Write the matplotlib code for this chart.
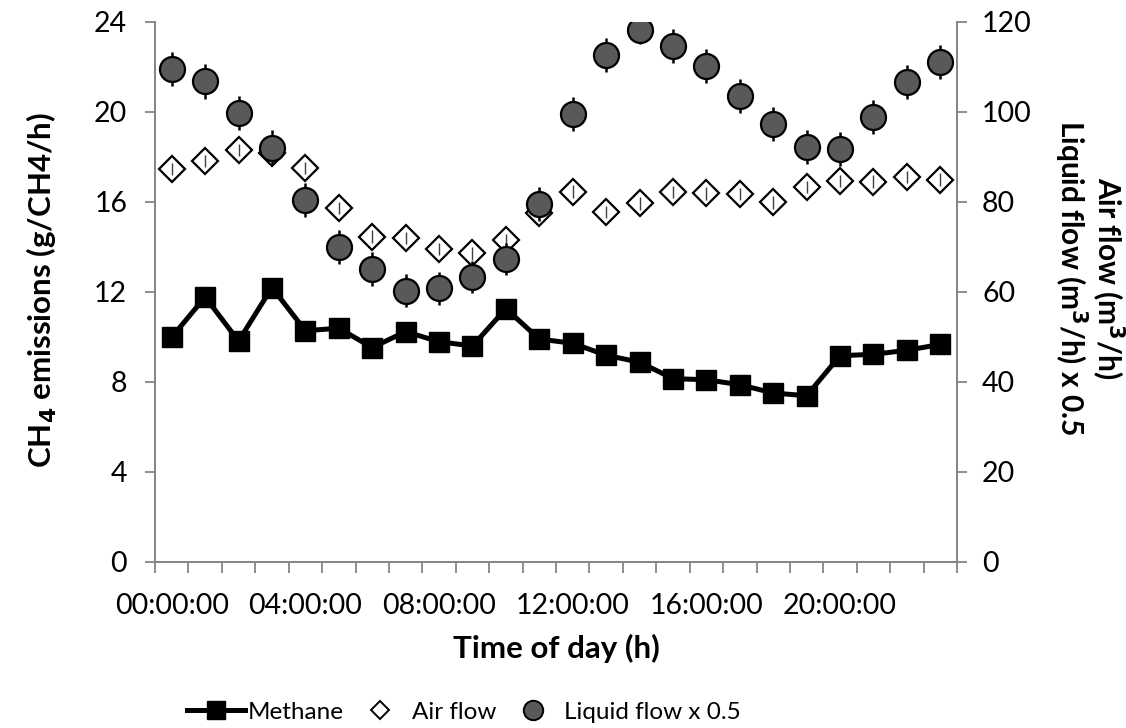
import numpy as np
import matplotlib
matplotlib.use("Agg")
import matplotlib.pyplot as plt
from matplotlib.lines import Line2D
from matplotlib.ticker import MultipleLocator, FixedLocator

plt.rcParams['font.family'] = ['Lato', 'DejaVu Sans']

# Hourly samples over one day (hour index 0..23)
hours = list(range(24))
tick_hours = [0, 4, 8, 12, 16, 20]
tick_labels = ["00:00:00", "04:00:00", "08:00:00", "12:00:00", "16:00:00", "20:00:00"]

# CH4 emissions (g/h), left axis
methane = [9.99, 11.78, 9.82, 12.2, 10.28, 10.39, 9.53, 10.24, 9.79, 9.6, 11.26, 9.91,
           9.72, 9.19, 8.88, 8.15, 8.10, 7.88, 7.51, 7.39, 9.17, 9.23, 9.41, 9.67]

# Air flow (m3/h), right axis
air_flow = [87.3, 89.1, 91.6, 90.8, 87.6, 78.7, 72.3, 72.0, 69.6, 68.6, 71.6, 77.5,
            82.3, 77.8, 79.7, 82.2, 81.9, 81.8, 79.9, 83.3, 84.7, 84.5, 85.6, 85.0]
air_err = [1.4, 1.4, 1.4, 1.4, 1.4, 1.4, 1.4, 1.4, 1.4, 1.4, 1.4, 1.4,
           1.4, 1.4, 1.4, 1.4, 1.4, 1.4, 1.4, 1.4, 1.4, 1.4, 1.4, 1.4]

# Liquid flow x 0.5 (m3/h), right axis
liquid_half = [109.6, 106.8, 99.8, 92.1, 80.4, 70.0, 65.2, 60.3, 60.8, 63.3, 67.3, 79.5,
               99.6, 112.6, 118.2, 114.7, 110.2, 103.6, 97.4, 92.2, 91.7, 98.9, 106.7, 111.1]
liquid_err = [3.8, 3.8, 3.8, 3.8, 3.8, 3.8, 3.8, 3.6, 3.6, 3.6, 3.6, 3.8,
              3.8, 3.8, 3.0, 3.8, 3.8, 3.8, 3.8, 3.8, 3.8, 3.8, 3.8, 3.8]

axis_grey = "#868686"
fill_grey = "#595959"
W, H = 1126, 728
ax_l, ax_r, ax_t, ax_b = 155, 957, 22, 562

fig = plt.figure(figsize=(W / 100, H / 100), dpi=100)
ax = fig.add_axes([ax_l / W, 1 - ax_b / H, (ax_r - ax_l) / W, (ax_b - ax_t) / H])
ax2 = ax.twinx()
ax2.patch.set_visible(False)

# Methane line on the primary axis
ax.plot(hours, methane, color="black", lw=3.6, marker="s", ms=14.5,
        mfc="black", mec="black", zorder=3)

# Air flow diamonds with their error bars drawn inside
ax2.plot(hours, air_flow, ls="none", marker="D", ms=13.2, mfc="white",
         mec="black", mew=1.6, zorder=2)
ax2.errorbar(hours, air_flow, yerr=air_err, fmt="none", ecolor="#404040",
             elinewidth=1.0, capsize=0, zorder=2.5)

# Liquid flow circles with error bars behind
ax2.errorbar(hours, liquid_half, yerr=liquid_err, fmt="none", ecolor="black",
             elinewidth=1.8, capsize=0, zorder=3)
ax2.plot(hours, liquid_half, ls="none", marker="o", ms=18, mfc=fill_grey,
         mec="black", mew=1.6, zorder=4)

# Axes limits and ticks
ax.set_xlim(-0.5, 23.5)
ax.set_ylim(0, 24)
ax2.set_ylim(0, 120)
ax.yaxis.set_major_locator(MultipleLocator(4))
ax2.yaxis.set_major_locator(MultipleLocator(20))

ax.xaxis.set_major_locator(FixedLocator(tick_hours))
ax.set_xticklabels(tick_labels)
ax.xaxis.set_minor_locator(FixedLocator([h - 0.5 for h in range(25)]))
ax.tick_params(axis="x", which="major", length=0, pad=22, labelsize=20.5)
ax.tick_params(axis="x", which="minor", length=8, width=1.3, color=axis_grey, direction="out")
ax.tick_params(axis="y", length=7, width=1.3, color=axis_grey, direction="out",
               labelsize=20.5, pad=13)
ax2.tick_params(axis="y", length=7, width=1.3, color=axis_grey, direction="out",
                labelsize=20.5, pad=11)

for a in (ax, ax2):
    a.spines["top"].set_visible(False)
    for s in ("left", "right", "bottom"):
        a.spines[s].set_color(axis_grey)
        a.spines[s].set_linewidth(1.3)

pw, ph = ax_r - ax_l, ax_b - ax_t

ax.set_xlabel("Time of day (h)", fontsize=22.5, fontweight="bold")
ax.xaxis.label.set_verticalalignment("center")
ax.xaxis.set_label_coords(0.5, -(648 - ax_b) / ph)

ax.set_ylabel("CH$_\\mathbf{4}$ emissions (g/CH4/h)", fontsize=22.5, fontweight="bold")
ax.yaxis.label.set_verticalalignment("center")
ax.yaxis.set_label_coords((42 - ax_l) / pw, (ax_b - 290) / ph)

ax2.set_ylabel("Air flow (m$^\\mathbf{3}$/h)\nLiquid flow (m$^\\mathbf{3}$/h) x 0.5",
               fontsize=21.5, fontweight="bold", rotation=270,
               multialignment="center", linespacing=1.0)
ax2.yaxis.label.set_verticalalignment("center")
ax2.yaxis.set_label_coords((1089 - ax_l) / pw, (ax_b - 278) / ph)

# Legend along the bottom
handles = [
    Line2D([], [], color="black", lw=3.6, marker="s", ms=13, mfc="black", mec="black"),
    Line2D([], [], ls="none", marker="D", ms=9, mfc="white", mec="black", mew=1.4),
    Line2D([], [], ls="none", marker="o", ms=14, mfc=fill_grey, mec="black", mew=1.4),
]
fig.legend(handles, ["Methane", "Air flow", "Liquid flow x 0.5"], loc="center",
           bbox_to_anchor=(464 / W, 1 - 712 / H), ncol=3, frameon=False, fontsize=17.5,
           handlelength=2.4, handletextpad=0.1, columnspacing=0.3)

fig.savefig("out.png", dpi=100)
